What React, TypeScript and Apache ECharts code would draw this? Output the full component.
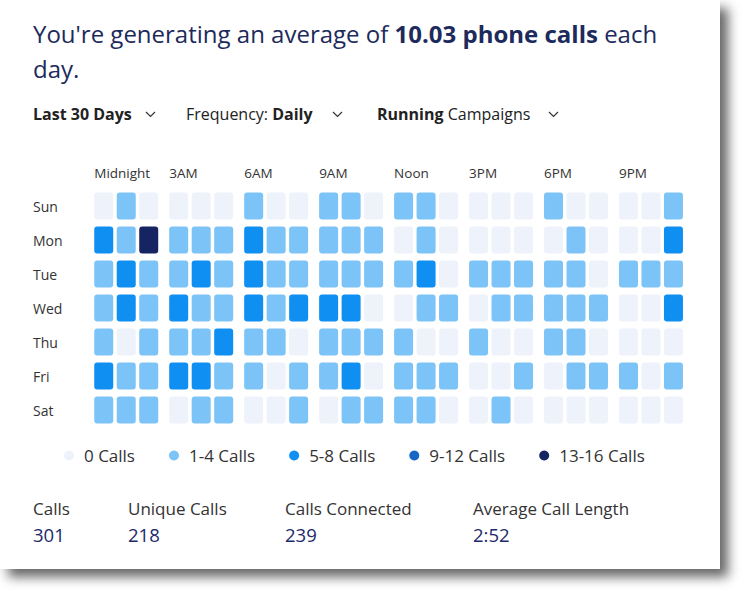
import React, { useEffect, useRef } from "react";
import * as echarts from "echarts";

const days = ["Sun", "Mon", "Tue", "Wed", "Thu", "Fri", "Sat"];
const hourLabels = ["Midnight", "3AM", "6AM", "9AM", "Noon", "3PM", "6PM", "9PM"];

// calls per hour (24 hours) for each day
const sunCalls = [0, 3, 0, 0, 0, 0, 3, 0, 0, 3, 3, 0, 3, 3, 0, 0, 0, 0, 3, 0, 0, 0, 0, 3];
const monCalls = [6, 3, 14, 3, 3, 3, 6, 3, 3, 3, 3, 3, 0, 3, 0, 0, 0, 0, 0, 3, 0, 0, 0, 6];
const tueCalls = [3, 6, 3, 3, 6, 3, 6, 3, 3, 3, 3, 3, 3, 6, 0, 3, 3, 3, 3, 3, 0, 3, 3, 3];
const wedCalls = [3, 6, 3, 6, 3, 3, 6, 3, 6, 6, 6, 0, 0, 3, 3, 0, 3, 3, 3, 3, 3, 0, 0, 6];
const thuCalls = [3, 0, 3, 3, 3, 6, 3, 3, 0, 3, 3, 3, 3, 0, 0, 3, 0, 0, 3, 3, 0, 0, 0, 0];
const friCalls = [6, 3, 3, 6, 6, 3, 3, 0, 3, 3, 6, 0, 3, 3, 3, 0, 0, 3, 0, 3, 3, 3, 0, 3];
const satCalls = [3, 3, 3, 0, 3, 3, 0, 0, 3, 0, 3, 3, 3, 3, 0, 0, 3, 0, 0, 0, 0, 0, 0, 0];
const callsByDay = [sunCalls, monCalls, tueCalls, wedCalls, thuCalls, friCalls, satCalls];

const legendLabels = ["0 Calls", "1-4 Calls", "5-8 Calls", "9-12 Calls", "13-16 Calls"];
const legendRanges = [[0, 0], [1, 4], [5, 8], [9, 12], [13, 16]];
const legendColors = ["#eef2fb", "#7cc4f7", "#0e8ff1", "#1767c4", "#172462"];

const statLabels = ["Calls", "Unique Calls", "Calls Connected", "Average Call Length"];
const statValues = ["301", "218", "239", "2:52"];

const FONT = "'Open Sans', sans-serif";
const GROUP_GAP = 1 / 3;

export default function App() {
  const ref = useRef<HTMLDivElement>(null);
  useEffect(() => {
    if (!ref.current) return;
    const chart = echarts.init(ref.current, null, { renderer: "svg" });

    const data: number[][] = [];
    callsByDay.forEach((row, d) => {
      row.forEach((v, h) => {
        data.push([h + Math.floor(h / 3) * GROUP_GAP, d, v]);
      });
    });
    const groupStarts = hourLabels.map((_, g) => g * 3 + g * GROUP_GAP - 0.422);

    const statX = [33, 128, 285, 473];
    const graphics: any[] = [
      {
        type: "rect",
        z: -10,
        shape: { x: 0, y: 0, width: 720, height: 569 },
        style: {
          fill: "#ffffff",
          shadowBlur: 12,
          shadowOffsetX: 8,
          shadowOffsetY: 8,
          shadowColor: "rgba(0,0,0,0.6)",
        },
        silent: true,
      },
      {
        type: "text",
        x: 33,
        y: 33,
        style: {
          text: "You're generating an average of {b|10.03 phone calls} each",
          fill: "#1d2a5c",
          font: `24px ${FONT}`,
          verticalAlign: "middle",
          rich: { b: { fontWeight: "bold", fill: "#1d2a5c", fontSize: 24, fontFamily: FONT } },
        },
      },
      {
        type: "text",
        x: 33,
        y: 68,
        style: { text: "day.", fill: "#1d2a5c", font: `24px ${FONT}`, verticalAlign: "middle" },
      },
      {
        type: "text",
        x: 33,
        y: 114,
        style: { text: "Last 30 Days", fill: "#222", font: `bold 16px ${FONT}`, verticalAlign: "middle" },
      },
      {
        type: "text",
        x: 186,
        y: 114,
        style: {
          text: "Frequency: {b|Daily}",
          fill: "#222",
          font: `16px ${FONT}`,
          verticalAlign: "middle",
          rich: { b: { fontWeight: "bold", fill: "#222", fontSize: 16, fontFamily: FONT } },
        },
      },
      {
        type: "text",
        x: 377,
        y: 114,
        style: {
          text: "{b|Running} Campaigns",
          fill: "#222",
          font: `16px ${FONT}`,
          verticalAlign: "middle",
          rich: { b: { fontWeight: "bold", fill: "#222", fontSize: 16, fontFamily: FONT } },
        },
      },
    ];
    [146, 333, 549].forEach((cx) => {
      graphics.push({
        type: "polyline",
        shape: { points: [[cx, 112], [cx + 4.5, 116.5], [cx + 9, 112]] },
        style: { stroke: "#333", lineWidth: 1.2, fill: "none" },
      });
    });
    statLabels.forEach((t, i) => {
      graphics.push({
        type: "text",
        x: statX[i],
        y: 508,
        style: { text: t, fill: "#333", font: `17px ${FONT}`, verticalAlign: "middle" },
      });
      graphics.push({
        type: "text",
        x: statX[i],
        y: 534,
        style: { text: statValues[i], fill: "#1d2a6b", font: `18.5px ${FONT}`, verticalAlign: "middle" },
      });
    });

    chart.setOption({
      animation: false,
      backgroundColor: "#ffffff",
      grid: { left: 92.5, top: 189, width: 592.2, height: 238, containLabel: false },
      xAxis: {
        type: "value",
        position: "top",
        min: -0.5,
        max: 25.8333,
        axisLine: { show: false },
        axisTick: { show: false },
        splitLine: { show: false },
        axisLabel: {
          customValues: groupStarts,
          align: "left",
          margin: 9,
          color: "#333",
          fontSize: 13.5,
          fontFamily: FONT,
          formatter: (v: number) => hourLabels[Math.round((v + 0.422) / (3 + GROUP_GAP))],
        },
      },
      yAxis: {
        type: "category",
        data: days,
        inverse: true,
        axisLine: { show: false },
        axisTick: { show: false },
        splitLine: { show: false },
        axisLabel: {
          align: "left",
          margin: 59.5,
          color: "#333",
          fontSize: 14,
          fontFamily: FONT,
        },
      },
      visualMap: {
        type: "piecewise",
        seriesIndex: 0,
        dimension: 2,
        orient: "horizontal",
        left: 49,
        top: 432,
        itemWidth: 10,
        itemHeight: 10,
        itemSymbol: "circle",
        itemGap: 34,
        textGap: 10,
        textStyle: { color: "#333", fontSize: 17, fontFamily: FONT },
        pieces: legendLabels.map((label, i) => ({
          min: legendRanges[i][0],
          max: legendRanges[i][1],
          label,
          color: legendColors[i],
        })),
      },
      graphic: graphics,
      series: [
        {
          type: "custom",
          encode: { x: 0, y: 1 },
          data,
          renderItem: (params: any, api: any) => {
            const c = api.coord([api.value(0), api.value(1)]);
            const sz = api.size([0.845, 1]);
            const w = sz[0];
            const h = (sz[1] * 27) / 34;
            return {
              type: "rect",
              shape: { x: c[0] - w / 2, y: c[1] - h / 2, width: w, height: h, r: 3 },
              style: { fill: api.visual("color") },
            };
          },
        },
      ],
    });
    return () => chart.dispose();
  }, []);
  return (
    <div
      ref={ref}
      style={{ position: "absolute", left: 0, top: 0, width: 748, height: 596 }}
    />
  );
}
